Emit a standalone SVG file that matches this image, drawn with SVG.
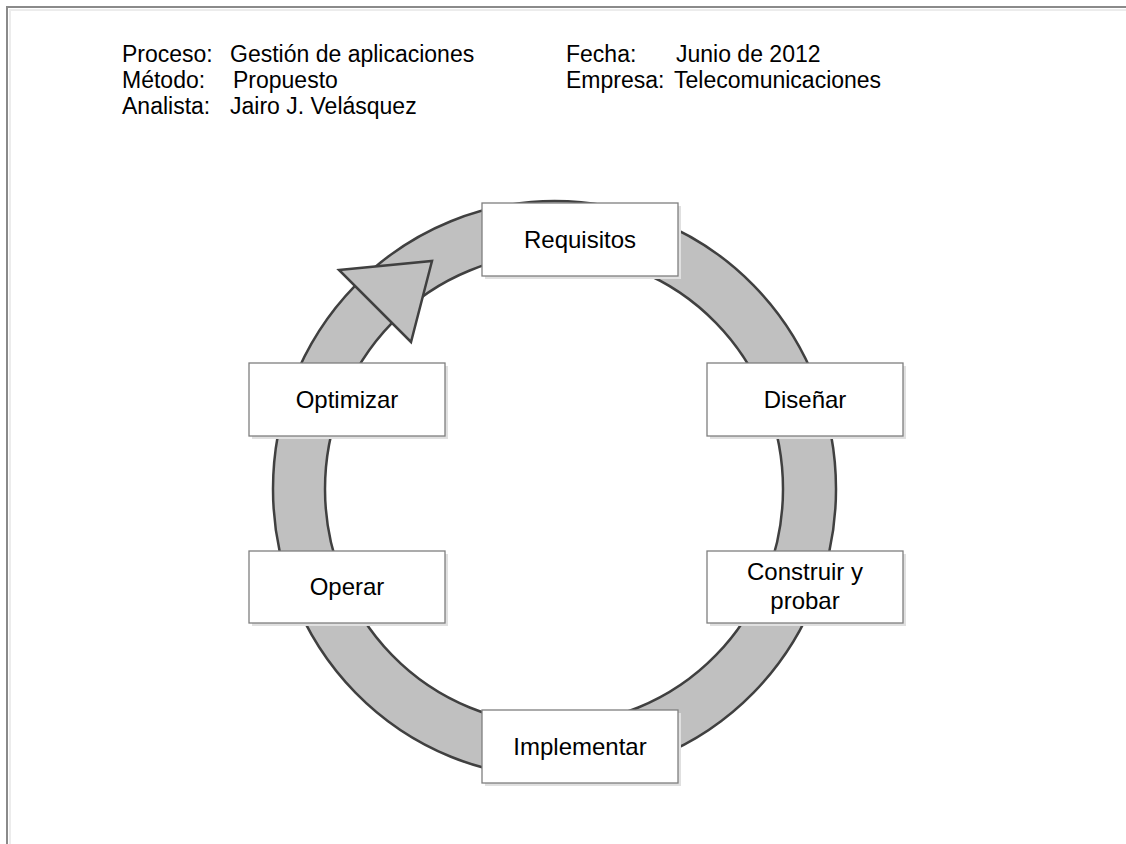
<svg xmlns="http://www.w3.org/2000/svg" width="1126" height="844" viewBox="0 0 1126 844">
  <defs>
    <style>
      .txt { font-family: "Liberation Sans", Arial, sans-serif; font-size: 23px; fill: #000; }
      .lbl { font-family: "Liberation Sans", Arial, sans-serif; font-size: 24px; fill: #000; text-anchor: middle; }
      .box { fill: #ffffff; stroke: #7f7f7f; stroke-width: 1.3; }
      .shadow { fill: #e0e0e0; }
      .ring { fill: #c0c0c0; stroke: #404040; stroke-width: 2.5; fill-rule: evenodd; }
    </style>
  </defs>

  <rect x="0" y="0" width="1126" height="844" fill="#ffffff"/>

  <!-- page frame -->
  <g id="frame" fill="none">
    <path d="M7,844 V7 H1126" stroke="#8a8a8a" stroke-width="2"/>
    <path d="M10,844 V10 H1126" stroke="#ececec" stroke-width="2"/>
  </g>

  <!-- header block -->
  <g id="header">
    <text class="txt" x="122" y="62">Proceso:</text>
    <text class="txt" x="230" y="62">Gestión de aplicaciones</text>
    <text class="txt" x="122" y="88">Método:</text>
    <text class="txt" x="233" y="88">Propuesto</text>
    <text class="txt" x="122" y="114">Analista:</text>
    <text class="txt" x="230" y="114">Jairo J. Velásquez</text>
    <text class="txt" x="566" y="62">Fecha:</text>
    <text class="txt" x="676" y="62">Junio de 2012</text>
    <text class="txt" x="566" y="88">Empresa:</text>
    <text class="txt" x="674" y="88">Telecomunicaciones</text>
  </g>

  <!-- cycle band with arrowhead -->
  <g id="connectors">
    <path class="ring" d="M273,489 A281.5,288 0 1,0 836,489 A281.5,288 0 1,0 273,489 Z M325,489 A229,235 0 1,1 783,489 A229,235 0 1,1 325,489 Z"/>
    <polygon class="ring" points="339,270 432,261 411,342" stroke-linejoin="miter"/>
  </g>

  <!-- process steps -->
  <g id="requisitos">
    <rect class="shadow" x="485" y="206" width="196" height="73"/>
    <rect class="box" x="482" y="203" width="196" height="73"/>
    <text class="lbl" x="580" y="248">Requisitos</text>
  </g>
  <g id="disenar">
    <rect class="shadow" x="710" y="366" width="196" height="73"/>
    <rect class="box" x="707" y="363" width="196" height="73"/>
    <text class="lbl" x="805" y="408">Diseñar</text>
  </g>
  <g id="construir">
    <rect class="shadow" x="710" y="554" width="196" height="72"/>
    <rect class="box" x="707" y="551" width="196" height="72"/>
    <text class="lbl" x="805" y="580">Construir y</text>
    <text class="lbl" x="805" y="609">probar</text>
  </g>
  <g id="implementar">
    <rect class="shadow" x="485" y="713" width="196" height="73"/>
    <rect class="box" x="482" y="710" width="196" height="73"/>
    <text class="lbl" x="580" y="755">Implementar</text>
  </g>
  <g id="operar">
    <rect class="shadow" x="252" y="554" width="196" height="72"/>
    <rect class="box" x="249" y="551" width="196" height="72"/>
    <text class="lbl" x="347" y="595">Operar</text>
  </g>
  <g id="optimizar">
    <rect class="shadow" x="252" y="366" width="196" height="73"/>
    <rect class="box" x="249" y="363" width="196" height="73"/>
    <text class="lbl" x="347" y="408">Optimizar</text>
  </g>
</svg>
